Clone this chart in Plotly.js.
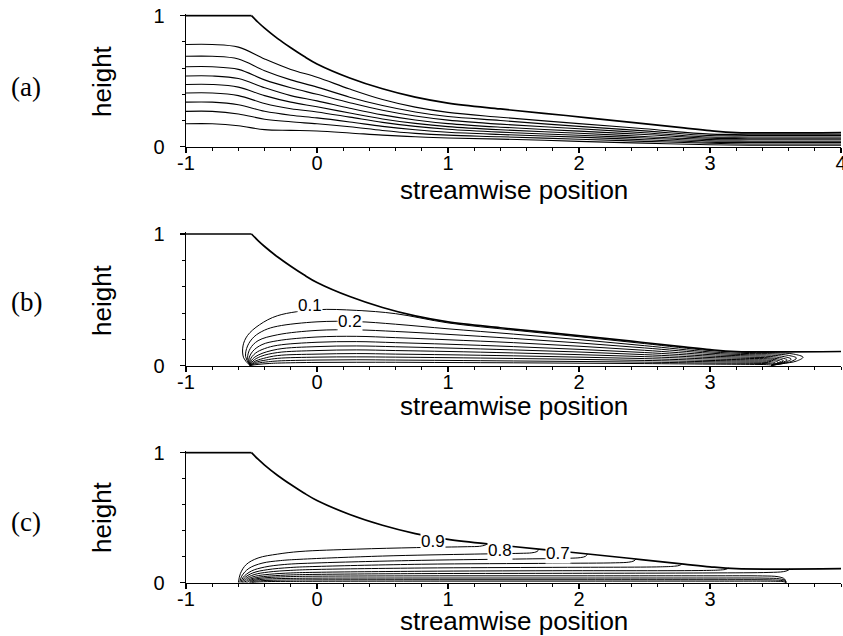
<!DOCTYPE html>
<html><head><meta charset="utf-8">
<script src="https://cdn.plot.ly/plotly-3.0.1.min.js"></script>
<style>html,body{margin:0;padding:0;background:#fff}#chart{width:843px;height:636px}</style>
</head><body><div id="chart"></div>
<script>
// ---------- tick labels ----------
const X_TICKS_A = [-1, 0, 1, 2, 3, 4];
const X_TEXT_A = ['-1', '0', '1', '2', '3', '4'];
const X_TICKS_BC = [-1, 0, 1, 2, 3];
const X_TEXT_BC = ['-1', '0', '1', '2', '3'];
const Y_TICKS = [0, 1];
const Y_TEXT = ['0', '1'];
const PANEL_NAMES = ['(a)', '(b)', '(c)'];

// ---------- free surface (same in all panels) ----------
const SURF_X = [-1, -0.5, -0.45, -0.4, -0.3, -0.2, -0.1, 0, 0.25, 0.5, 0.75, 1, 1.4, 1.9, 2.4, 2.8, 3.0, 3.2, 4];
const SURF_H = [1, 1, 0.95, 0.905, 0.825, 0.755, 0.69, 0.632, 0.525, 0.442, 0.378, 0.333, 0.288, 0.238, 0.186, 0.143, 0.122, 0.108, 0.108];

// ---------- (a) streamlines ----------
const SL_X = [-1, -0.8, -0.6, -0.4, -0.2, 0, 0.25, 0.5, 0.75, 1, 1.4, 2, 2.5, 3, 3.3, 4];
const SL_1 = [0.175,0.175,0.16,0.13,0.125,0.12,0.105,0.088,0.076,0.067,0.058,0.041,0.027,0.015,0.011,0.011];
const SL_2 = [0.27,0.27,0.25,0.21,0.19,0.175,0.152,0.124,0.102,0.088,0.076,0.057,0.041,0.026,0.021,0.021];
const SL_3 = [0.34,0.34,0.32,0.27,0.24,0.22,0.189,0.155,0.129,0.11,0.093,0.073,0.053,0.035,0.032,0.032];
const SL_4 = [0.41,0.41,0.39,0.33,0.29,0.265,0.226,0.186,0.155,0.133,0.111,0.087,0.066,0.045,0.042,0.042];
const SL_5 = [0.475,0.475,0.455,0.39,0.34,0.305,0.257,0.212,0.178,0.153,0.129,0.103,0.078,0.055,0.053,0.053];
const SL_6 = [0.54,0.54,0.52,0.45,0.39,0.35,0.294,0.243,0.204,0.176,0.149,0.119,0.093,0.065,0.064,0.064];
const SL_7 = [0.61,0.61,0.59,0.51,0.45,0.4,0.336,0.278,0.234,0.203,0.172,0.137,0.107,0.074,0.074,0.074];
const SL_8 = [0.69,0.69,0.67,0.58,0.51,0.455,0.378,0.314,0.265,0.23,0.2,0.155,0.121,0.085,0.085,0.085];
const SL_9 = [0.78,0.78,0.76,0.67,0.59,0.53,0.44,0.36,0.302,0.262,0.225,0.176,0.137,0.096,0.095,0.095];

// ---------- (b) contours ----------
const B1X = [-0.51,-0.56,-0.565,-0.53,-0.44,-0.3,0,0.3,0.6,1.0,1.5,2.0,2.5,3.0,3.3,3.5,3.64,3.71,3.66,3.55,3.47];
const B1H = [0,0.06,0.15,0.23,0.31,0.38,0.425,0.42,0.395,0.325,0.27,0.22,0.168,0.115,0.1,0.098,0.088,0.064,0.035,0.015,0.003];
const B2X = [-0.51,-0.545,-0.53,-0.48,-0.4,-0.3,0,0.3,0.6,1.0,1.5,2.0,2.5,3.0,3.3,3.48,3.6,3.66,3.62,3.53,3.47];
const B2H = [0,0.07,0.15,0.22,0.27,0.3,0.333,0.335,0.315,0.28,0.24,0.198,0.152,0.105,0.092,0.09,0.078,0.058,0.032,0.012,0.003];
const B3X = [-0.51,-0.53,-0.51,-0.45,-0.3,0,0.3,0.6,1.0,1.5,2.0,2.5,3.0,3.3,3.47,3.57,3.62,3.58,3.51,3.47];
const B3H = [0,0.06,0.13,0.19,0.235,0.268,0.272,0.26,0.238,0.207,0.173,0.135,0.095,0.083,0.08,0.068,0.05,0.028,0.01,0.003];
const B4X = [-0.51,-0.52,-0.49,-0.42,-0.3,0,0.3,0.6,1.0,1.5,2.0,2.5,3.0,3.3,3.46,3.55,3.59,3.55,3.5,3.47];
const B4H = [0,0.05,0.11,0.16,0.19,0.218,0.223,0.213,0.197,0.175,0.148,0.117,0.084,0.074,0.07,0.058,0.044,0.024,0.009,0.003];
const B5X = [-0.51,-0.51,-0.47,-0.4,-0.3,0,0.3,0.6,1.0,1.5,2.0,2.5,3.0,3.3,3.45,3.53,3.56,3.53,3.49,3.47];
const B5H = [0,0.045,0.095,0.13,0.155,0.178,0.183,0.175,0.163,0.145,0.124,0.1,0.073,0.064,0.06,0.05,0.038,0.02,0.008,0.003];
const B6X = [-0.51,-0.5,-0.45,-0.3,0,0.3,0.6,1.0,1.5,2.0,2.5,3.0,3.3,3.44,3.51,3.54,3.51,3.48,3.47];
const B6H = [0,0.04,0.08,0.125,0.145,0.15,0.144,0.134,0.12,0.104,0.084,0.062,0.055,0.052,0.043,0.032,0.017,0.007,0.003];
const B7X = [-0.51,-0.49,-0.43,-0.3,0,0.3,0.6,1.0,1.5,2.0,2.5,3.0,3.3,3.43,3.5,3.52,3.5,3.47];
const B7H = [0,0.035,0.07,0.1,0.115,0.12,0.115,0.108,0.097,0.084,0.069,0.051,0.045,0.043,0.035,0.026,0.014,0.003];
const B8X = [-0.51,-0.48,-0.41,-0.3,0,0.3,0.6,1.0,1.5,2.0,2.5,3.0,3.3,3.43,3.48,3.5,3.48,3.47];
const B8H = [0,0.03,0.055,0.077,0.088,0.092,0.088,0.083,0.075,0.065,0.054,0.04,0.036,0.034,0.028,0.02,0.01,0.003];
const B9X = [-0.51,-0.47,-0.39,-0.3,0,0.3,0.6,1.0,1.5,2.0,2.5,3.0,3.3,3.42,3.47,3.49,3.47];
const B9H = [0,0.025,0.043,0.056,0.065,0.067,0.065,0.061,0.055,0.048,0.04,0.03,0.027,0.025,0.02,0.014,0.003];
const B10X = [-0.51,-0.46,-0.37,-0.3,0,0.3,0.6,1.0,1.5,2.0,2.5,3.0,3.3,3.42,3.47,3.475,3.47];
const B10H = [0,0.018,0.03,0.036,0.043,0.045,0.043,0.04,0.036,0.032,0.027,0.02,0.018,0.016,0.012,0.007,0.003];
const B11X = [-0.51,-0.45,-0.36,-0.3,0,0.3,0.6,1.0,1.5,2.0,2.5,3.0,3.3,3.43,3.46,3.47];
const B11H = [0,0.01,0.017,0.02,0.025,0.026,0.026,0.024,0.022,0.019,0.016,0.012,0.01,0.008,0.005,0.003];
const B_LABELS = ['0.1', '0.2'];
const B_LABEL_X = [-0.053, 0.252];
const B_LABEL_H = [0.455, 0.336];

// ---------- (c) contours ----------
const C1X = [-0.6,-0.585,-0.54,-0.45,-0.3,-0.13,0.3,0.76,1.15,1.24,1.285,1.3];
const C1H = [0,0.07,0.14,0.19,0.22,0.24,0.258,0.27,0.277,0.28,0.29,0.3];
const C2X = [-0.59,-0.575,-0.52,-0.42,-0.28,-0.13,0.5,1.2,1.55,1.64,1.68,1.695];
const C2H = [0,0.05,0.11,0.15,0.17,0.18,0.205,0.22,0.226,0.23,0.24,0.258];
const C3X = [-0.58,-0.565,-0.5,-0.4,-0.25,0,0.8,1.6,1.92,2.01,2.05,2.065];
const C3H = [0,0.04,0.09,0.12,0.14,0.152,0.172,0.183,0.188,0.193,0.203,0.221];
const C4X = [-0.57,-0.555,-0.49,-0.38,-0.2,0,0.8,1.8,2.28,2.38,2.42,2.435];
const C4H = [0,0.035,0.075,0.1,0.117,0.125,0.142,0.149,0.153,0.158,0.168,0.183];
const C5X = [-0.56,-0.545,-0.48,-0.37,-0.2,0,0.8,1.8,2.62,2.73,2.77,2.785];
const C5H = [0,0.03,0.062,0.082,0.095,0.102,0.113,0.118,0.122,0.127,0.134,0.145];
const C6X = [-0.55,-0.535,-0.47,-0.36,-0.2,0,0.8,1.8,2.95,3.08,3.125,3.14];
const C6H = [0,0.025,0.05,0.065,0.075,0.08,0.088,0.092,0.094,0.098,0.104,0.113];
const C7X = [-0.54,-0.525,-0.46,-0.35,-0.2,0,0.8,1.8,3.0,3.45,3.56,3.595,3.61];
const C7H = [0,0.02,0.04,0.052,0.06,0.064,0.07,0.072,0.075,0.079,0.085,0.095,0.107];
const C8X = [-0.53,-0.515,-0.45,-0.35,-0.2,0,1,2,3,3.4,3.52,3.57,3.58];
const C8H = [0,0.016,0.032,0.041,0.047,0.05,0.053,0.053,0.053,0.052,0.046,0.028,0.0];
const C9X = [-0.52,-0.505,-0.44,-0.34,-0.2,0,1,2,3,3.42,3.53,3.575,3.58];
const C9H = [0,0.012,0.024,0.03,0.033,0.035,0.036,0.036,0.036,0.035,0.03,0.016,0];
const C10X = [-0.51,-0.495,-0.43,-0.33,-0.2,0,1,2,3,3.45,3.54,3.578,3.58];
const C10H = [0,0.008,0.015,0.019,0.021,0.022,0.023,0.023,0.023,0.022,0.018,0.009,0];
const C11X = [-0.5,-0.46,-0.35,-0.2,0,1,2,3,3.5,3.56,3.58];
const C11H = [0,0.005,0.009,0.01,0.011,0.012,0.012,0.012,0.011,0.008,0];
const C_LABELS = ['0.9', '0.8', '0.7'];
const C_LABEL_X = [0.883, 1.397, 1.84];
const C_LABEL_H = [0.315, 0.246, 0.222];

// ---------- build ----------
const FONT = 'Liberation Sans, Arial, Helvetica, sans-serif';
const SERIF = 'Liberation Serif, Times New Roman, serif';
const traces = [];
function addLine(xs, ys, xa, ya, w, shape) {
  traces.push({type: 'scatter', mode: 'lines', x: xs, y: ys, xaxis: xa, yaxis: ya,
    line: {color: '#000', width: w, shape: shape, smoothing: 1}, hoverinfo: 'skip', showlegend: false});
}
const axPairs = [['x', 'y'], ['x2', 'y2'], ['x3', 'y3']];
axPairs.forEach(([xa, ya]) => {
  addLine(SURF_X.slice(0, 2), SURF_H.slice(0, 2), xa, ya, 1.7, 'linear');
  addLine(SURF_X.slice(1), SURF_H.slice(1), xa, ya, 1.7, 'spline');
});
[SL_1, SL_2, SL_3, SL_4, SL_5, SL_6, SL_7, SL_8, SL_9].forEach(s => addLine(SL_X, s, 'x', 'y', 1.1, 'spline'));
[[B1X,B1H],[B2X,B2H],[B3X,B3H],[B4X,B4H],[B5X,B5H],[B6X,B6H],[B7X,B7H],[B8X,B8H],[B9X,B9H],[B10X,B10H],[B11X,B11H]]
  .forEach(([a, b]) => addLine(a, b, 'x2', 'y2', 1.0, 'spline'));
[[C1X,C1H],[C2X,C2H],[C3X,C3H],[C4X,C4H],[C5X,C5H],[C6X,C6H],[C7X,C7H],[C8X,C8H],[C9X,C9H],[C10X,C10H],[C11X,C11H]]
  .forEach(([a, b]) => addLine(a, b, 'x3', 'y3', 1.0, 'spline'));

const W = 843, H = 636;
const XL = 186, XR = 841;
// pixel rows of (h=0) and pixels per unit height for each panel
const PANEL_Y0 = [146.7, 365.7, 582.7];
const PANEL_UNIT = [131, 131.7, 130];
const YMAX = 1.012;

function xAxis(anchor, tv, tt) {
  return {
    domain: [XL / W, XR / W], range: [-1, 4], anchor: anchor,
    showline: true, linecolor: '#000', linewidth: 1.5, mirror: false,
    showgrid: false, zeroline: false,
    tickmode: 'array', tickvals: tv, ticktext: tt,
    ticks: 'outside', ticklen: 5, tickwidth: 1.3, tickcolor: '#000',
    ticklabelstandoff: -7, ticklabeloverflow: 'allow',
    tickfont: {family: FONT, size: 20, color: '#000'},
    minor: {tickmode: 'linear', tick0: 0, dtick: 0.2, ticks: 'outside', ticklen: 3, tickwidth: 1, tickcolor: '#000'},
    fixedrange: true
  };
}
function yAxis(anchor, i) {
  const bottom = PANEL_Y0[i];
  const top = bottom - YMAX * PANEL_UNIT[i];
  return {
    domain: [1 - bottom / H, 1 - top / H], range: [0, YMAX], anchor: anchor,
    showline: true, linecolor: '#000', linewidth: 1.5,
    showgrid: false, zeroline: false,
    tickmode: 'array', tickvals: Y_TICKS, ticktext: Y_TEXT,
    ticks: 'outside', ticklen: 5, tickwidth: 1.3, tickcolor: '#000',
    ticklabelstandoff: 11, ticklabeloverflow: 'allow',
    tickfont: {family: FONT, size: 20, color: '#000'},
    minor: {tickmode: 'linear', tick0: 0, dtick: 0.2, ticks: 'outside', ticklen: 3, tickwidth: 1, tickcolor: '#000'},
    fixedrange: true
  };
}

const annotations = [];
const TITLE_Y = [189.5, 405.5, 621];
const HEIGHT_Y = [81, 300, 517];
const NAME_Y = [87, 302, 522];
for (let i = 0; i < 3; i++) {
  annotations.push({xref: 'paper', yref: 'paper', x: ((XL + XR) / 2) / W, y: 1 - TITLE_Y[i] / H,
    text: 'streamwise position', showarrow: false, xanchor: 'center', yanchor: 'middle',
    font: {family: FONT, size: 26, color: '#000'}});
  annotations.push({xref: 'paper', yref: 'paper', x: 102 / W, y: 1 - HEIGHT_Y[i] / H,
    text: 'height', textangle: -90, showarrow: false, xanchor: 'center', yanchor: 'middle',
    font: {family: FONT, size: 26, color: '#000'}});
  annotations.push({xref: 'paper', yref: 'paper', x: 26 / W, y: 1 - NAME_Y[i] / H,
    text: PANEL_NAMES[i], showarrow: false, xanchor: 'center', yanchor: 'middle',
    font: {family: SERIF, size: 27, color: '#000'}});
}
B_LABELS.forEach((t, k) => annotations.push({xref: 'x2', yref: 'y2', x: B_LABEL_X[k], y: B_LABEL_H[k],
  text: t, showarrow: false, bgcolor: '#fff', borderpad: 0, font: {family: FONT, size: 17, color: '#000'}}));
C_LABELS.forEach((t, k) => annotations.push({xref: 'x3', yref: 'y3', x: C_LABEL_X[k], y: C_LABEL_H[k],
  text: t, showarrow: false, bgcolor: '#fff', borderpad: 0, font: {family: FONT, size: 17, color: '#000'}}));

const layout = {
  width: W, height: H, margin: {l: 0, r: 0, t: 0, b: 0, pad: 0},
  paper_bgcolor: '#fff', plot_bgcolor: '#fff', showlegend: false,
  xaxis: xAxis('y', X_TICKS_A, X_TEXT_A),
  xaxis2: xAxis('y2', X_TICKS_BC, X_TEXT_BC),
  xaxis3: xAxis('y3', X_TICKS_BC, X_TEXT_BC),
  yaxis: yAxis('x', 0), yaxis2: yAxis('x2', 1), yaxis3: yAxis('x3', 2),
  annotations: annotations
};
Plotly.newPlot('chart', traces, layout, {staticPlot: true, displayModeBar: false});
</script>
</body></html>
